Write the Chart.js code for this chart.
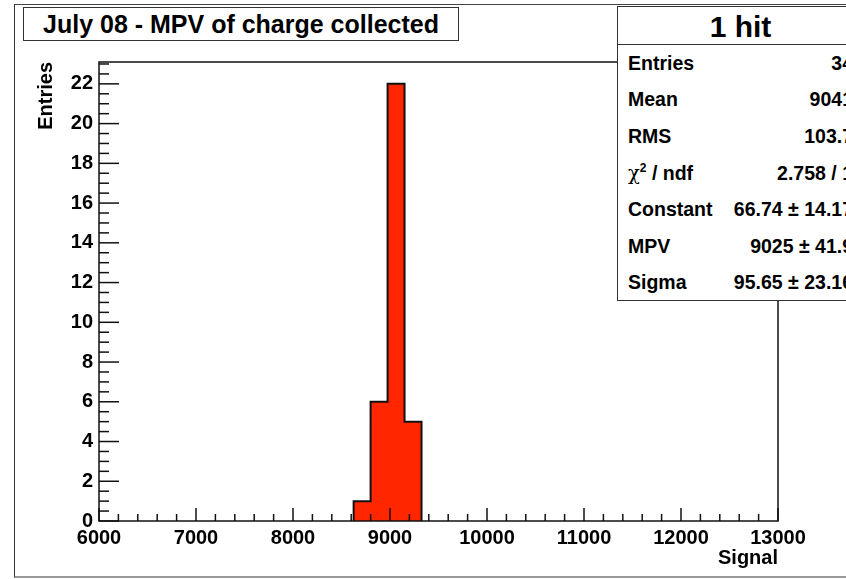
<!DOCTYPE html>
<html>
<head>
<meta charset="utf-8">
<title>July 08 - MPV of charge collected</title>
<script src="https://cdn.jsdelivr.net/npm/chart.js@4.4.0/dist/chart.umd.min.js"></script>
<style>
body { margin:0; width:846px; height:579px; overflow:hidden; background:#fff;
       font-family:"Liberation Sans", Arial, sans-serif; font-weight:bold; color:#000; }
#pad { position:absolute; left:14px; top:4px; width:850px; height:571px;
       border-left:1.5px solid #333; border-top:1px solid #444; border-bottom:2px solid #999; }
canvas { position:absolute; left:0; top:0; }
#titleBox { position:absolute; left:23px; top:7px; width:434px; height:32px; border:1px solid #333;
            background:#fff; font-size:25px; line-height:33px; text-align:center; }
#stats { position:absolute; left:617px; top:6px; width:245px; height:293px; border:1.5px solid #333; background:#fff; }
#stats .head { height:37px; border-bottom:1px solid #333; font-size:30px; line-height:39px; text-align:center; }
#stats .row { height:36.6px; display:flex; justify-content:space-between; align-items:center;
              padding:0 10px; font-size:19.5px; }
#stats .chi { font-family:"DejaVu Serif", serif; font-weight:normal; }
#stats sup { font-size:12px; }
</style>
</head>
<body>
<div id="pad"></div>
<canvas id="chartMpv" width="846" height="579"></canvas>
<div id="titleBox">July 08 - MPV of charge collected</div>
<div id="stats"><div class="head">1 hit</div></div>

<script>
// histogram bins (175 wide), only the filled ones
const binEdges = [8625, 8800, 8975, 9150, 9325];
const binCounts = [1, 6, 22, 5];

// axes
const xRange = [6000, 13000];
const yRange = [0, 23.1];
const xTickValues = [6000, 7000, 8000, 9000, 10000, 11000, 12000, 13000];
const yTickValues = [0, 2, 4, 6, 8, 10, 12, 14, 16, 18, 20, 22];
const xMinorStep = 200;
const yMinorStep = 0.5;

// stats box
const statLabels = ["Entries", "Mean", "RMS", "chi2", "Constant", "MPV", "Sigma"];
const statValues = ["34", "9041", "103.7", "2.758 / 1", "66.74 \u00b1 14.17", "9025 \u00b1 41.9", "95.65 \u00b1 23.16"];

const stats = document.getElementById("stats");
statLabels.forEach((lab, i) => {
    const row = document.createElement("div");
    row.className = "row";
    const l = document.createElement("span");
    if (lab === "chi2") {
        l.innerHTML = '<span class="chi">\u03c7</span><sup>2</sup> / ndf';
    } else {
        l.textContent = lab;
    }
    const v = document.createElement("span");
    v.textContent = statValues[i];
    row.appendChild(l);
    row.appendChild(v);
    stats.appendChild(row);
});

// =================== OUTLINE ===================
// step outline of the histogram: up at the first edge, across each bin, down at the last edge
const outline = [{x: binEdges[0], y: 0}];
binCounts.forEach((c, i) => outline.push({x: binEdges[i + 1], y: c}));
outline.push({x: binEdges[binEdges.length - 1], y: 0});

// ROOT style frame with ticks pointing inward
const rootAxes = {
    id: "rootAxes",
    afterDatasetsDraw(chart) {
        const {ctx, chartArea: a, scales: {x, y}} = chart;
        ctx.save();
        ctx.strokeStyle = "#111";
        ctx.lineWidth = 1.5;

        for (let v = xRange[0]; v <= xRange[1]; v += xMinorStep) {
            const px = x.getPixelForValue(v);
            const len = v % 1000 === 0 ? 13 : 7;
            ctx.beginPath();
            ctx.moveTo(px, a.bottom);
            ctx.lineTo(px, a.bottom - len);
            ctx.stroke();
        }

        for (let v = yRange[0]; v <= yRange[1]; v += yMinorStep) {
            const py = y.getPixelForValue(v);
            const len = v % 2 === 0 ? 20 : 10;
            ctx.beginPath();
            ctx.moveTo(a.left, py);
            ctx.lineTo(a.left + len, py);
            ctx.stroke();
        }

        ctx.strokeRect(a.left, a.top, a.right - a.left, a.bottom - a.top);
        ctx.restore();
    }
};

const axisFont = {family: "'Liberation Sans', Arial, sans-serif", weight: "bold", size: 20};

// =================== GRAFIK ===================

const chartMpv = new Chart(document.getElementById("chartMpv"), {
    type: "line",
    data: {
        datasets: [{
            label: "1 hit",
            data: outline,
            // vertical first, then across to the next edge
            stepped: "after",
            fill: "origin",
            backgroundColor: "#ff2600",
            borderColor: "#111",
            borderWidth: 2,
            pointRadius: 0,
            tension: 0
        }]
    },
    options: {
        responsive: false,
        animation: false,
        devicePixelRatio: 1,
        layout: {padding: {left: 0, top: 62, right: 68, bottom: 0}},
        plugins: {legend: {display: false}, tooltip: {enabled: false}},
        scales: {
            x: {
                type: "linear",
                min: xRange[0],
                max: xRange[1],
                afterBuildTicks: s => { s.ticks = xTickValues.map(v => ({value: v})); },
                afterFit: s => { s.height = 58; },
                ticks: {
                    callback: v => String(v),
                    font: axisFont,
                    color: "#000",
                    padding: 5,
                    maxRotation: 0,
                    autoSkip: false
                },
                grid: {display: false, drawTicks: false},
                border: {display: false},
                title: {
                    display: true,
                    text: "Signal",
                    align: "end",
                    font: axisFont,
                    color: "#000",
                    padding: {top: 0, bottom: 9}
                }
            },
            y: {
                type: "linear",
                min: yRange[0],
                max: yRange[1],
                afterBuildTicks: s => { s.ticks = yTickValues.map(v => ({value: v})); },
                afterFit: s => { s.width = 99; },
                ticks: {
                    font: axisFont,
                    color: "#000",
                    padding: 6
                },
                grid: {display: false, drawTicks: false},
                border: {display: false},
                title: {
                    display: true,
                    text: "Entries",
                    align: "end",
                    font: axisFont,
                    color: "#000",
                    padding: {top: 34, bottom: 0}
                }
            }
        }
    },
    plugins: [rootAxes]
});
</script>
</body>
</html>
